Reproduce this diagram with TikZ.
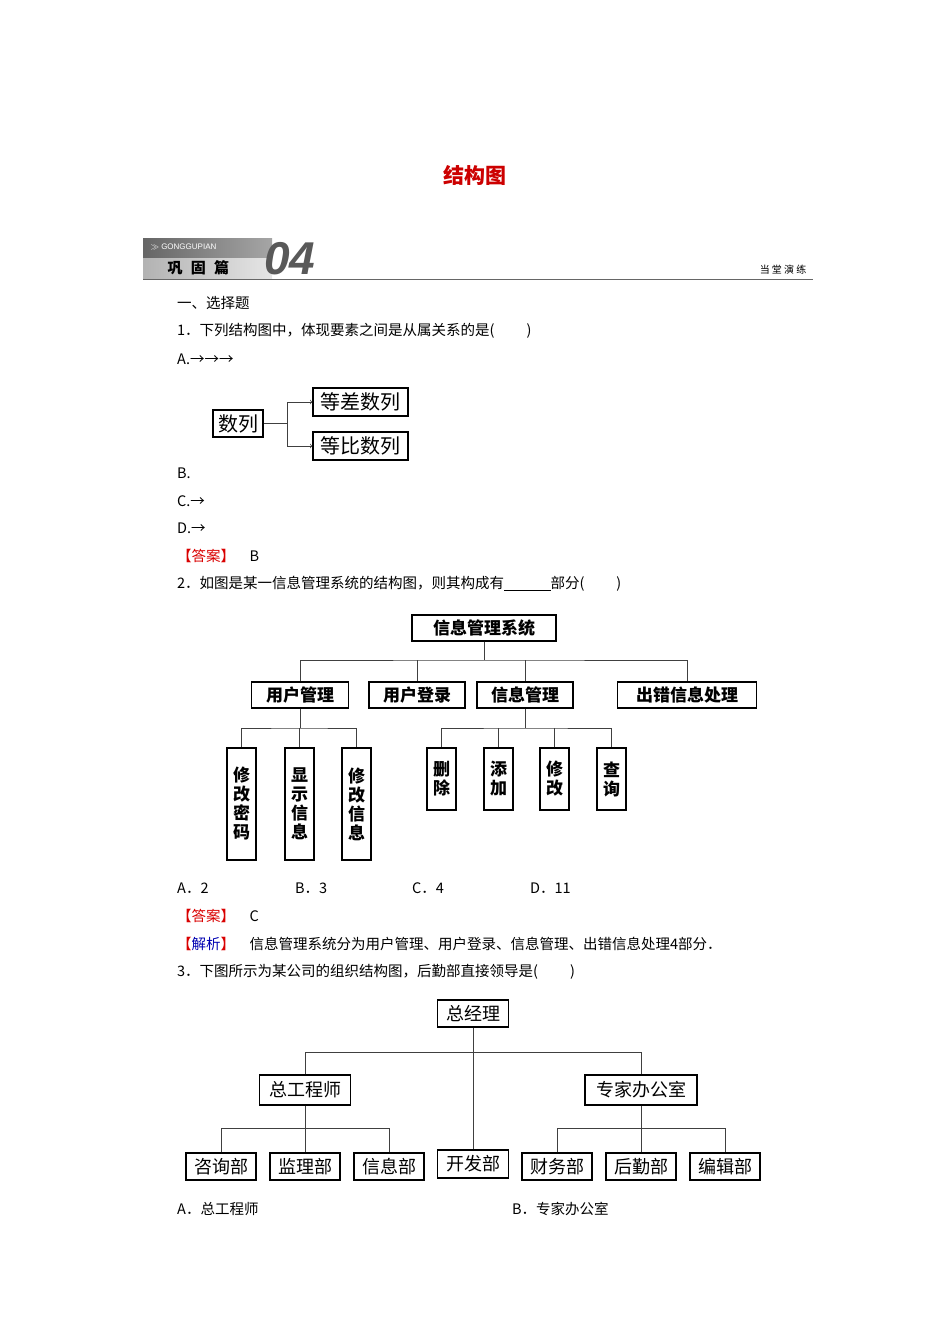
\documentclass[tikz,border=0pt]{standalone}
\usepackage{fontspec}
\setmainfont{Noto Sans CJK SC}
\newfontfamily\sans{Liberation Sans}
\begin{document}
\begin{tikzpicture}[x=1pt,y=-1pt,
  txt/.style={anchor=west,inner sep=0pt,font=\fontsize{14.5}{14.5}\selectfont},
  bx/.style={draw,line width=1.3pt,inner sep=0pt,minimum height=#1},
  bx/.default=27pt,
  vb/.style={draw,line width=1.3pt,inner sep=0pt,minimum width=29pt,minimum height=#1,align=center,font=\fontsize{17}{19}\selectfont\bfseries},
  ln/.style={draw=black!75,line width=0.7pt}]
\useasboundingbox (0,0) rectangle (950,1344);
\node[font=\fontsize{21}{21}\selectfont\bfseries,text=red!80!black] (title) at (475,175) {结构图};
% banner
\shade[left color=black!60,right color=black!35] (143,238) rectangle (272,258);
\shade[left color=black!30,right color=black!10] (143,258) rectangle (272,279);
\draw[black!60,line width=1pt] (143,279.5) -- (813,279.5);
\node[anchor=west,text=white,font=\sans\fontsize{8}{8}\selectfont] (gg) at (147,247) {$\gg$ GONGGUPIAN};
\node[anchor=west,font=\fontsize{15}{15}\selectfont\bfseries\itshape] (gg2) at (164,268) {巩\;\;固\;\;篇};
\node[anchor=west,inner sep=0pt,text=black!65,font=\sans\fontsize{46}{46}\selectfont\bfseries\itshape] (n04) at (264,259) {04};
\node[anchor=east,font=\fontsize{10}{10}\selectfont] (dt) at (810,270) {当\ 堂\ 演\ 练};
% text
\node[txt] (t1) at (177,303) {一、选择题};
\node[txt] (t2) at (177,331) {1．下列结构图中，体现要素之间是从属关系的是(\hspace{2.2em})};
\node[txt] (t3) at (177,359) {A.→→→};
\node[txt] (t4) at (177,473) {B.};
\node[txt] (t5) at (177,501) {C.→};
\node[txt] (t6) at (177,528) {D.→};
\node[txt] (t7) at (177,556) {\textcolor{red!85!black}{【答案】}\quad B};
\node[txt] (t8) at (177,584) {2．如图是某一信息管理系统的结构图，则其构成有\underline{\hspace{3.2em}}部分(\hspace{2.2em})};
\node[txt] (t9) at (177,888) {A．2};
\node[txt] (t10) at (295,888) {B．3};
\node[txt] (t11) at (412,888) {C．4};
\node[txt] (t12) at (530,888) {D．11};
\node[txt] (t13) at (177,916) {\textcolor{red!85!black}{【答案】}\quad C};
\node[txt] (t14) at (177,944) {\textcolor{red!85!black}{【}\textcolor{blue!70!black}{解析}\textcolor{red!85!black}{】}\quad 信息管理系统分为用户管理、用户登录、信息管理、出错信息处理4部分．};
\node[txt] (t15) at (177,972) {3．下图所示为某公司的组织结构图，后勤部直接领导是(\hspace{2.2em})};
\node[txt] (t16) at (177,1209) {A．总工程师};
\node[txt] (t17) at (512,1209) {B．专家办公室};
% diagram 1
\begin{scope}[every node/.style={font=\fontsize{20}{20}\selectfont}]
\node[bx=27pt,minimum width=50pt] (sl) at (238,423.5) {数列};
\node[bx=28pt,minimum width=95pt] (dc) at (360.5,402) {等差数列};
\node[bx=28pt,minimum width=95pt] (db) at (360.5,446) {等比数列};
\end{scope}
\coordinate (j1) at (287,423.5);
\draw[ln] (sl.east) -- (j1);
\draw[ln,->] (j1) |- (dc.west);
\draw[ln,->] (j1) |- (db.west);
% diagram 2
\begin{scope}[every node/.style={font=\fontsize{17}{17}\selectfont\bfseries}]
\node[bx=26pt,minimum width=144pt] (sys) at (484,628) {信息管理系统};
\node[bx=26pt,minimum width=97pt] (yg) at (300,695) {用户管理};
\node[bx=26pt,minimum width=96pt] (yd) at (417,695) {用户登录};
\node[bx=26pt,minimum width=96pt] (xg) at (525,695) {信息管理};
\node[bx=26pt,minimum width=139pt] (cc) at (687,695) {出错信息处理};
\end{scope}
\node[vb=112pt] (va) at (241.5,804) {修\\改\\密\\码};
\node[vb=112pt] (vb2) at (299.5,804) {显\\示\\信\\息};
\node[vb=112pt] (vc) at (356.5,804) {修\\改\\信\\息};
\node[vb=62pt] (wa) at (441.5,779) {删\\除};
\node[vb=62pt] (wb) at (498.5,779) {添\\加};
\node[vb=62pt] (wc) at (554.5,779) {修\\改};
\node[vb=62pt] (wd) at (611.5,779) {查\\询};
\coordinate (h1) at (484,660);
\draw[ln] (sys.south) -- (h1);
\draw[ln] (yg.north) |- (h1) -| (cc.north);
\draw[ln] (yd.north) -- (yd.north |- h1);
\draw[ln] (xg.north) -- (xg.north |- h1);
\coordinate (h2) at (300,728);
\draw[ln] (yg.south) -- (h2);
\draw[ln] (va.north) |- (h2) -| (vc.north);
\draw[ln] (vb2.north) -- (vb2.north |- h2);
\coordinate (h3) at (525,728);
\draw[ln] (xg.south) -- (h3);
\draw[ln] (wa.north) |- (h3) -| (wd.north);
\draw[ln] (wb.north) -- (wb.north |- h3);
\draw[ln] (wc.north) -- (wc.north |- h3);
% diagram 3
\begin{scope}[every node/.style={font=\fontsize{18}{18}\selectfont}]
\node[bx=27pt,minimum width=71pt] (zj) at (473,1013.5) {总经理};
\node[bx=30pt,minimum width=91pt] (zg) at (305,1090) {总工程师};
\node[bx=30pt,minimum width=112pt] (zb) at (641,1090) {专家办公室};
\node[bx=27pt,minimum width=70pt] (b1) at (221,1166.5) {咨询部};
\node[bx=27pt,minimum width=70pt] (b2) at (305,1166.5) {监理部};
\node[bx=27pt,minimum width=70pt] (b3) at (389,1166.5) {信息部};
\node[bx=28pt,minimum width=71pt] (b4) at (473,1164) {开发部};
\node[bx=27pt,minimum width=70pt] (b5) at (557,1166.5) {财务部};
\node[bx=27pt,minimum width=70pt] (b6) at (641,1166.5) {后勤部};
\node[bx=27pt,minimum width=70pt] (b7) at (725,1166.5) {编辑部};
\end{scope}
\coordinate (k1) at (473,1052);
\draw[ln] (zj.south) -- (b4.north);
\draw[ln] (zg.north) |- (k1) -| (zb.north);
\coordinate (k2) at (305,1128);
\draw[ln] (zg.south) -- (b2.north);
\draw[ln] (b1.north) |- (k2) -| (b3.north);
\coordinate (k3) at (641,1128);
\draw[ln] (zb.south) -- (b6.north);
\draw[ln] (b5.north) |- (k3) -| (b7.north);
\end{tikzpicture}
\end{document}
